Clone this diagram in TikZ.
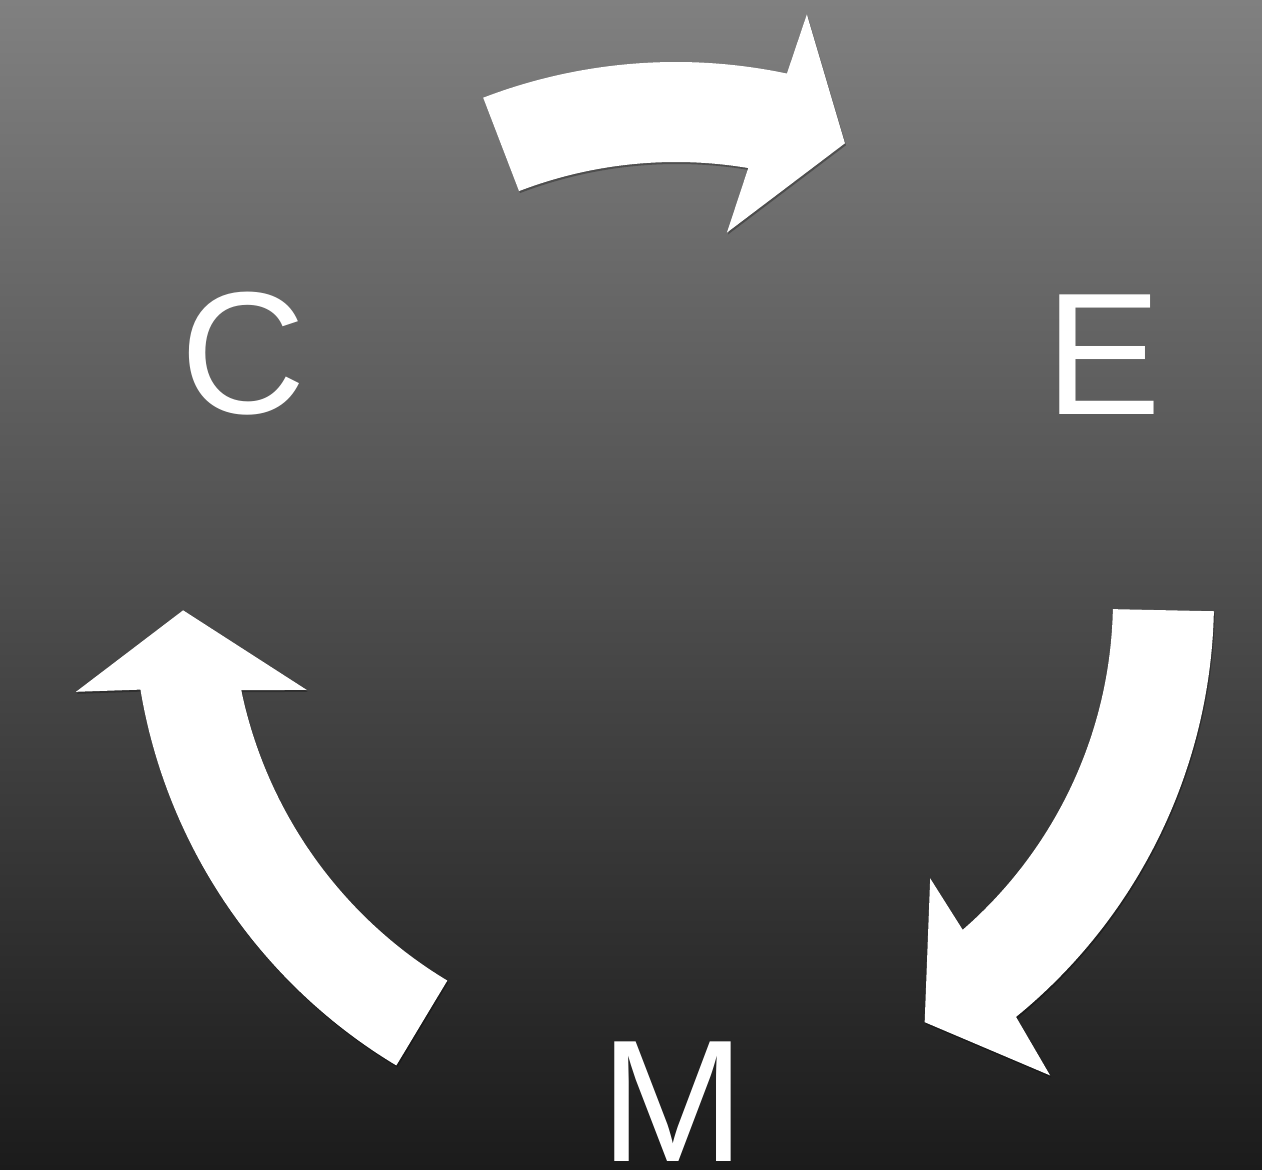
\documentclass[tikz,border=0pt]{standalone}
\usepackage{fontspec}
\setmainfont{Liberation Sans}
\usepackage{xcolor}
\usepackage{tikz}
\usetikzlibrary{shadows,calc}

\definecolor{bgtop}{RGB}{128,128,128}
\definecolor{bgbot}{RGB}{27,27,27}

\begin{document}
\begin{tikzpicture}[x=0.02cm,y=0.02cm]
\tikzstyle{letter}=[text=white, inner sep=0pt, font=\fontsize{99}{99}\selectfont]
\tikzstyle{cyclearrow}=[fill=white, draw=none, drop shadow={shadow xshift=0.02cm, shadow yshift=-0.04cm, opacity=0.3, fill=black}]
% background
\shade[top color=bgtop, bottom color=bgbot] (-676,-570) rectangle (586,600);
\useasboundingbox (-676,-570) rectangle (586,600);
% stages
\node[letter] (cstage) at (-433,246) {C};
\node[letter] (estage) at (428,245) {E};
\node[letter] (mstage) at (-3,-502) {M};
% C -> E
\path[cyclearrow] (111:538) arc[start angle=111, end angle=78.1, radius=538]
  -- (77.4:600) -- (69.7:487) -- (82.1:371) -- (80.5:438)
  arc[start angle=80.5, end angle=111, radius=438] -- cycle;
% E -> M
\path[cyclearrow] (-1.2:538) arc[start angle=-1.2, end angle=-50.8, radius=538]
  -- (-51.8:605) -- (-59.5:490) -- (-47.6:377) -- (-49:437)
  arc[start angle=-49, end angle=-1.2, radius=437] -- cycle;
% M -> C
\path[cyclearrow] (-121:543) arc[start angle=-121, end angle=-170.5, radius=543]
  -- (-171.3:607) -- (-178.8:493) -- (-166.3:380) -- (-168.3:444)
  arc[start angle=-168.3, end angle=-121, radius=444] -- cycle;
\end{tikzpicture}
\end{document}
